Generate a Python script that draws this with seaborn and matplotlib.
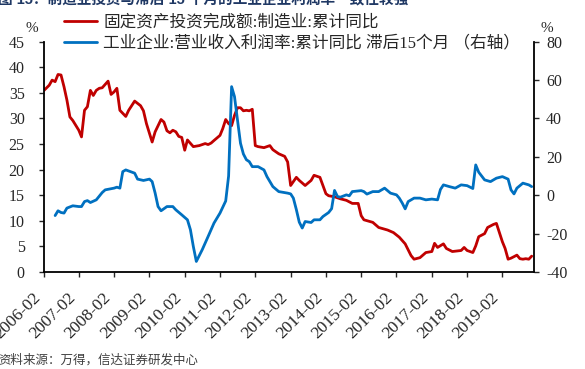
import pandas as pd
import matplotlib
matplotlib.use('Agg')
import matplotlib.pyplot as plt
import seaborn as sns

# 固定资产投资完成额:制造业:累计同比 (left axis, %)
red_months = ['2006-02', '2006-04', '2006-05', '2006-06', '2006-07', '2006-08', '2006-09', '2006-10',
              '2006-11', '2006-12', '2007-02', '2007-03', '2007-04', '2007-05', '2007-06', '2007-07',
              '2007-08', '2007-09', '2007-10', '2007-12', '2008-01', '2008-02', '2008-03', '2008-04',
              '2008-06', '2008-07', '2008-09', '2008-11', '2008-12', '2009-01', '2009-03', '2009-04',
              '2009-06', '2009-07', '2009-08', '2009-09', '2009-10', '2009-11', '2009-12', '2010-01',
              '2010-02', '2010-03', '2010-05', '2010-07', '2010-09', '2010-10', '2010-11', '2010-12',
              '2011-02', '2011-03', '2011-04', '2011-05', '2011-06', '2011-07', '2011-08', '2011-09',
              '2011-10', '2011-11', '2011-12', '2012-01', '2012-02', '2012-03', '2012-05', '2012-07',
              '2012-08', '2012-10', '2012-12', '2013-01', '2013-02', '2013-04', '2013-05', '2013-07',
              '2013-09', '2013-10', '2013-12', '2014-02', '2014-03', '2014-05', '2014-07', '2014-09',
              '2014-11', '2015-01', '2015-02', '2015-03', '2015-06', '2015-08', '2015-11', '2016-01',
              '2016-03', '2016-05', '2016-07', '2016-08', '2016-10', '2016-12', '2017-02', '2017-03',
              '2017-04', '2017-06', '2017-07', '2017-09', '2017-12', '2018-01', '2018-02', '2018-04',
              '2018-05', '2018-06', '2018-08', '2018-09', '2018-11', '2018-12', '2019-02', '2019-03',
              '2019-04', '2019-05', '2019-06', '2019-07', '2019-08', '2019-09', '2019-10', '2019-11',
              '2019-12']
red_vals = [35.4, 36.5, 37.5, 37.2, 38.6, 38.5, 36.2, 33.6,
            30.3, 29.6, 27.7, 26.4, 31.6, 32.3, 35.5, 34.5,
            35.5, 35.9, 36.0, 37.3, 34.7, 35.2, 35.9, 31.6,
            30.4, 31.6, 33.4, 32.5, 31.5, 29.0, 25.4, 27.4,
            29.8, 29.3, 27.6, 27.2, 27.7, 27.4, 26.5, 26.3,
            23.8, 25.8, 24.5, 24.7, 25.1, 24.9, 25.2, 25.7,
            26.7, 28.0, 29.8, 29.0, 28.6, 30.6, 32.1, 32.1,
            31.5, 31.6, 31.5, 31.8, 24.7, 24.5, 24.3, 24.7,
            23.9, 23.1, 22.6, 21.5, 16.9, 18.5, 17.9, 16.9,
            17.9, 18.9, 18.5, 15.3, 14.9, 14.7, 14.3, 14.0,
            13.4, 13.4, 11.0, 10.2, 9.7, 8.7, 8.2, 7.7,
            6.8, 5.5, 3.2, 2.5, 2.8, 3.8, 4.0, 5.6,
            4.8, 5.5, 4.6, 4.0, 4.2, 4.8, 4.2, 3.8,
            5.1, 6.9, 7.5, 8.7, 9.3, 9.5, 5.9, 4.6,
            2.5, 2.7, 3.0, 3.3, 2.6, 2.5, 2.6, 2.5,
            3.1]

# 工业企业:营业收入利润率:累计同比 滞后15个月 (right axis, %)
blue_months = ['2006-06', '2006-07', '2006-08', '2006-09', '2006-10', '2006-12', '2007-02', '2007-03',
               '2007-04', '2007-05', '2007-06', '2007-08', '2007-10', '2007-11', '2008-02', '2008-03',
               '2008-04', '2008-05', '2008-06', '2008-09', '2008-10', '2008-12', '2009-02', '2009-03',
               '2009-04', '2009-05', '2009-06', '2009-08', '2009-10', '2009-11', '2010-01', '2010-03',
               '2010-04', '2010-05', '2010-06', '2010-08', '2010-10', '2010-12', '2011-02', '2011-04',
               '2011-05', '2011-06', '2011-07', '2011-08', '2011-09', '2011-10', '2011-11', '2011-12',
               '2012-01', '2012-03', '2012-05', '2012-06', '2012-08', '2012-10', '2013-01', '2013-02',
               '2013-03', '2013-04', '2013-05', '2013-06', '2013-07', '2013-09', '2013-10', '2013-12',
               '2014-01', '2014-03', '2014-04', '2014-05', '2014-06', '2014-07', '2014-09', '2014-10',
               '2014-11', '2015-02', '2015-03', '2015-04', '2015-06', '2015-08', '2015-10', '2015-12',
               '2016-02', '2016-03', '2016-04', '2016-05', '2016-06', '2016-08', '2016-10', '2016-12',
               '2017-02', '2017-04', '2017-05', '2017-06', '2017-08', '2017-10', '2017-12', '2018-02',
               '2018-04', '2018-05', '2018-06', '2018-08', '2018-10', '2018-12', '2019-02', '2019-04',
               '2019-05', '2019-06', '2019-07', '2019-09', '2019-11', '2019-12']
blue_vals = [-10.6, -8.1, -9.0, -9.3, -6.7, -5.5, -5.9, -5.9,
             -3.3, -2.8, -3.8, -2.4, 1.4, 2.8, 3.7, 4.2,
             3.7, 12.3, 13.2, 11.5, 8.4, 7.7, 8.4, 7.1,
             1.1, -5.9, -8.1, -5.9, -5.9, -7.6, -10.2, -12.8,
             -18.0, -26.7, -34.5, -28.4, -21.5, -14.5, -9.3, -3.0,
             10.0, 56.6, 51.4, 39.2, 27.1, 21.5, 18.5, 17.5,
             14.9, 14.9, 13.2, 9.7, 4.5, 1.9, 1.1, 0.7,
             -1.5, -7.5, -14.0, -17.1, -13.7, -14.2, -12.8, -12.8,
             -11.1, -9.0, -7.0, 2.5, -0.7, -1.0, 0.2, -0.3,
             1.9, 2.4, 1.9, 0.6, 1.9, 1.9, 3.7, 1.1,
             0.2, -1.5, -4.1, -7.1, -3.3, -1.5, -1.5, -2.4,
             -2.0, -2.4, 3.0, 5.4, 4.5, 3.7, 5.4, 5.0,
             3.5, 15.8, 12.0, 8.0, 7.1, 8.9, 9.7, 8.4,
             2.8, 0.7, 3.7, 6.3, 5.4, 4.5]

tick_months = ['2006-02', '2007-02', '2008-02', '2009-02', '2010-02', '2011-02', '2012-02',
               '2013-02', '2014-02', '2015-02', '2016-02', '2017-02', '2018-02', '2019-02']
left_ticks = [0, 5, 10, 15, 20, 25, 30, 35, 40, 45]
right_ticks = [-40, -20, 0, 20, 40, 60, 80]

label_fai = '固定资产投资完成额:制造业:累计同比'
label_profit = '工业企业:营业收入利润率:累计同比 滞后15个月 （右轴）'
title = '图 15：制造业投资与滞后 15 个月的工业企业利润率一致性较强'
source = '资料来源：万得，信达证券研发中心'

sns.set_style('ticks')
plt.rcParams['font.family'] = ['Liberation Serif', 'Noto Sans CJK SC']
plt.rcParams['axes.unicode_minus'] = False

fai_df = pd.DataFrame({'date': pd.to_datetime(red_months, format='%Y-%m'), 'value': red_vals})
profit_df = pd.DataFrame({'date': pd.to_datetime(blue_months, format='%Y-%m'), 'value': blue_vals})

fig = plt.figure(figsize=(5.85, 3.69), dpi=100)
ax = fig.add_axes([0.0744, 0.2629, 0.8376, 0.624])
ax2 = ax.twinx()

sns.lineplot(data=fai_df, x='date', y='value', ax=ax, color='#C00000', linewidth=2.0)
sns.lineplot(data=profit_df, x='date', y='value', ax=ax2, color='#0070C0', linewidth=2.0)

ax.set_xlim(pd.Timestamp('2006-02-01'), pd.Timestamp('2019-12-20'))
ax.set_ylim(0, 45)
ax2.set_ylim(-40, 80)
ax.set_yticks(left_ticks)
ax2.set_yticks(right_ticks)
ax.set_xticks(pd.to_datetime(tick_months, format='%Y-%m'))
ax.set_xticklabels(tick_months, rotation=45, ha='right')
for a in (ax, ax2):
    a.set_xlabel('')
    a.set_ylabel('')
    a.spines['top'].set_visible(False)
    for s in a.spines.values():
        s.set_linewidth(1.3)
        s.set_color('black')
ax.spines['right'].set_visible(False)
ax2.spines['left'].set_visible(False)
ax2.spines['bottom'].set_visible(False)

ax.tick_params(axis='y', direction='out', length=3.6, width=1, pad=10, labelsize=11.5)
ax.tick_params(axis='x', direction='out', length=3.6, width=1, pad=9, labelsize=12.5)
ax2.tick_params(axis='y', direction='out', length=3.6, width=1, pad=5.5, labelsize=11.5)

fig.text(32 / 585, 1 - 28 / 369, '%', ha='center', va='center', fontsize=11)
fig.text(547 / 585, 1 - 28 / 369, '%', ha='center', va='center', fontsize=11)

fig.legend(handles=[ax.lines[0], ax2.lines[0]], labels=[label_fai, label_profit],
           loc='upper left', bbox_to_anchor=(64 / 585, 1 - 15 / 369), frameon=False,
           fontsize=12, handlelength=2.0, handletextpad=0.35, borderpad=0,
           borderaxespad=0, labelspacing=0.27)

fig.text(-0.004, 1 - 7 / 369, title, ha='left', va='bottom', fontsize=10.5,
         fontweight='bold', color='#1F3864', family=['Liberation Sans', 'Noto Sans CJK SC'])
fig.text(-0.003, 1 - 360 / 369, source, ha='left', va='center', fontsize=9,
         color='#404040', family=['Liberation Serif', 'Noto Sans CJK SC'])

fig.savefig('out.png', dpi=100)
